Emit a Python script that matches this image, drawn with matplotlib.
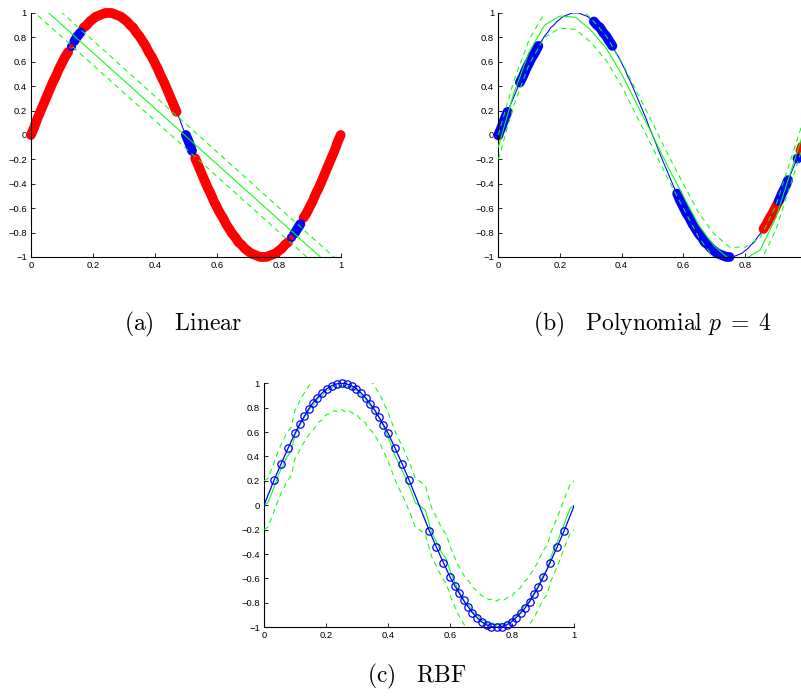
import numpy as np
import matplotlib.pyplot as plt

plt.rcParams['mathtext.fontset'] = 'cm'
plt.rcParams['font.family'] = ['Liberation Sans', 'DejaVu Sans']

# target curve sin(2 pi x), read on a 0.01 grid
x_grid = np.linspace(0, 1, 101)
sine_y = [0.00, 0.06, 0.13, 0.19, 0.25, 0.31, 0.37, 0.43, 0.48, 0.54, 0.59, 0.64, 0.68,
          0.73, 0.77, 0.81, 0.84, 0.88, 0.90, 0.93, 0.95, 0.97, 0.98, 0.99, 1.00, 1.00,
          1.00, 0.99, 0.98, 0.97, 0.95, 0.93, 0.90, 0.88, 0.84, 0.81, 0.77, 0.73, 0.68,
          0.64, 0.59, 0.54, 0.48, 0.43, 0.37, 0.31, 0.25, 0.19, 0.13, 0.06, 0.00,
          -0.06, -0.13, -0.19, -0.25, -0.31, -0.37, -0.43, -0.48, -0.54, -0.59, -0.64, -0.68,
          -0.73, -0.77, -0.81, -0.84, -0.88, -0.90, -0.93, -0.95, -0.97, -0.98, -0.99, -1.00, -1.00,
          -1.00, -0.99, -0.98, -0.97, -0.95, -0.93, -0.90, -0.88, -0.84, -0.81, -0.77, -0.73, -0.68,
          -0.64, -0.59, -0.54, -0.48, -0.43, -0.37, -0.31, -0.25, -0.19, -0.13, -0.06, 0.00]

# (a) linear kernel
lin_x = [0.0, 1.0]
lin_fit = [1.13, -1.15]
lin_eps = 0.1
lin_red = [(0.00, 0.12), (0.17, 0.47), (0.53, 0.83), (0.88, 1.00)]
lin_blue = [(0.14, 0.16), (0.50, 0.52), (0.85, 0.87)]
lin_ring = [0.13, 0.84]

# (b) polynomial kernel p = 4
poly_x = [0.00, 0.05, 0.10, 0.15, 0.20, 0.25, 0.30, 0.35, 0.40, 0.45, 0.50,
          0.55, 0.60, 0.65, 0.70, 0.75, 0.80, 0.85, 0.90, 0.95, 1.00]
poly_fit = [-0.10, 0.34, 0.68, 0.90, 0.975, 0.965, 0.86, 0.71, 0.50, 0.25, 0.00,
            -0.26, -0.50, -0.74, -0.91, -1.02, -1.02, -0.94, -0.68, -0.29, 0.10]
poly_eps = 0.1
poly_red = [(0.00, 0.00), (0.86, 0.91), (0.98, 1.00)]
poly_blue = [(0.00, 0.03), (0.07, 0.13), (0.31, 0.37), (0.58, 0.75), (0.91, 0.94), (0.97, 0.97)]

# (c) RBF kernel
rbf_x = [0.0, 0.033, 0.055, 0.078, 0.100, 0.116, 0.130, 0.144, 0.158, 0.172, 0.187, 0.202,
         0.218, 0.234, 0.250, 0.266, 0.282, 0.298, 0.313, 0.328, 0.343, 0.357, 0.371, 0.385,
         0.400, 0.422, 0.445, 0.467, 0.5, 0.533, 0.555, 0.578, 0.600, 0.615, 0.629, 0.643,
         0.657, 0.671, 0.686, 0.701, 0.717, 0.733, 0.750, 0.766, 0.782, 0.798, 0.813, 0.828,
         0.842, 0.856, 0.870, 0.884, 0.900, 0.922, 0.945, 0.967, 1.0]
rbf_y = [0.00, 0.21, 0.34, 0.47, 0.59, 0.67, 0.73, 0.79, 0.84, 0.88, 0.92, 0.955,
         0.98, 0.995, 1.00, 0.995, 0.98, 0.955, 0.92, 0.88, 0.83, 0.78, 0.72, 0.66,
         0.59, 0.47, 0.34, 0.21, 0.00, -0.21, -0.34, -0.47, -0.59, -0.66, -0.72, -0.78,
         -0.83, -0.88, -0.92, -0.955, -0.98, -0.995, -1.00, -0.995, -0.98, -0.955, -0.92, -0.88,
         -0.84, -0.79, -0.73, -0.67, -0.59, -0.47, -0.34, -0.21, 0.00]
rbf_sv = [0] + [1] * 27 + [0] + [1] * 27 + [0]
rbf_fit_x = [0.000, 0.012, 0.025, 0.050, 0.075, 0.0875, 0.100, 0.125,
             0.150, 0.1625, 0.175, 0.1875, 0.200, 0.2125, 0.225, 0.2375, 0.250,
             0.2625, 0.275, 0.2875, 0.300, 0.3125, 0.325, 0.3375, 0.350,
             0.375, 0.400, 0.425, 0.450, 0.475, 0.4875, 0.500, 0.520, 0.540,
             0.550, 0.575, 0.5875, 0.600, 0.625,
             0.650, 0.6625, 0.675, 0.6875, 0.700, 0.7125, 0.725, 0.7375, 0.750,
             0.7625, 0.775, 0.7875, 0.800, 0.8125, 0.825, 0.8375, 0.850,
             0.875, 0.900, 0.9125, 0.925, 0.950, 0.975, 0.988, 1.000]
rbf_fit = [0.00, 0.02, 0.10, 0.27, 0.40, 0.44, 0.58, 0.70,
           0.80, 0.83, 0.88, 0.90, 0.94, 0.95, 0.975, 0.965, 0.985,
           0.965, 0.975, 0.95, 0.94, 0.90, 0.88, 0.83, 0.80,
           0.70, 0.56, 0.39, 0.26, 0.11, 0.02, 0.00, -0.04, -0.22,
           -0.27, -0.40, -0.44, -0.54, -0.69,
           -0.80, -0.83, -0.88, -0.90, -0.94, -0.95, -0.975, -0.965, -0.985,
           -0.965, -0.975, -0.95, -0.94, -0.90, -0.88, -0.83, -0.80,
           -0.70, -0.57, -0.53, -0.42, -0.27, -0.10, -0.02, 0.00]
rbf_eps = 0.2

xticks = [0, 0.2, 0.4, 0.6, 0.8, 1]
xtick_labels = ['0', '0.2', '0.4', '0.6', '0.8', '1']
yticks = [-1, -0.8, -0.6, -0.4, -0.2, 0, 0.2, 0.4, 0.6, 0.8, 1]
ytick_labels = ['\u22121', '\u22120.8', '\u22120.6', '\u22120.4', '\u22120.2', '0',
                '0.2', '0.4', '0.6', '0.8', '1']

captions = [r'$\mathrm{(a)}\quad\mathrm{Linear}$',
            r'$\mathrm{(b)}\quad\mathrm{Polynomial}\ p\;=\;4$',
            r'$\mathrm{(c)}\quad\mathrm{RBF}$']

xg = np.asarray(x_grid)
sy = np.asarray(sine_y)
GREEN = (0, 1, 0)
DASH = (0, (5, 4))


def style(ax, nx=None):
    ax.set_xlim(0, 1)
    ax.set_ylim(-1, 1)
    ax.spines['top'].set_visible(False)
    ax.spines['right'].set_visible(False)
    for s in ['left', 'bottom']:
        ax.spines[s].set_linewidth(0.8)
    ax.set_xticks(xticks[:nx], xtick_labels[:nx])
    ax.set_yticks(yticks, ytick_labels)
    ax.tick_params(direction='in', length=3, width=0.6, labelsize=6.8, pad=3)


def segment(ax, lo, hi, color):
    m = (xg >= lo - 1e-9) & (xg <= hi + 1e-9)
    if m.sum() > 1:
        ax.plot(xg[m], sy[m], color=color, lw=7, solid_capstyle='round',
                clip_on=False, zorder=2)
    else:
        ax.plot(xg[m], sy[m], 'o', color=color, ms=7, mew=0, clip_on=False, zorder=2)


def tube(ax, x, fit, eps):
    fit = np.asarray(fit)
    ax.plot(x, fit, color=GREEN, lw=0.75, zorder=4)
    ax.plot(x, fit + eps, color=GREEN, lw=0.75, ls=DASH, zorder=4)
    ax.plot(x, fit - eps, color=GREEN, lw=0.75, ls=DASH, zorder=4)


fig = plt.figure(figsize=(8.01, 7.00), dpi=100)
ax_a = fig.add_axes([0.0387, 0.6329, 0.3866, 0.3486])
ax_b = fig.add_axes([0.6221, 0.6329, 0.3849, 0.3486])
ax_c = fig.add_axes([0.3296, 0.1039, 0.3874, 0.3486])

# (a)
ax_a.plot(xg, sy, color='blue', lw=0.75, zorder=1)
for lo, hi in lin_red:
    segment(ax_a, lo, hi, 'red')
for lo, hi in lin_blue:
    segment(ax_a, lo, hi, 'blue')
for xr in lin_ring:
    i = int(np.argmin(np.abs(xg - xr)))
    ax_a.plot(xg[i], sy[i], 'o', mfc='red', mec='blue', ms=5, mew=1.5, zorder=3)
tube(ax_a, lin_x, lin_fit, lin_eps)
style(ax_a)

# (b) -- right edge of this panel runs past the figure, like the original
ax_b.plot(xg, sy, color='blue', lw=0.75, zorder=1)
for lo, hi in poly_red:
    segment(ax_b, lo, hi, 'red')
for lo, hi in poly_blue:
    segment(ax_b, lo, hi, 'blue')
tube(ax_b, poly_x, poly_fit, poly_eps)
style(ax_b, nx=-1)

# (c)
tube(ax_c, rbf_fit_x, rbf_fit, rbf_eps)
rx = np.asarray(rbf_x)
ry = np.asarray(rbf_y)
sv = np.asarray(rbf_sv) == 1
ax_c.plot(rx, ry, color='blue', lw=0.9, zorder=5)
ax_c.plot(rx[sv], ry[sv], 'o', mfc='none', mec='blue', ms=5.3, mew=0.9, zorder=6,
          clip_on=False)
style(ax_c)

fig.text(183 / 801, 1 - 324 / 700, captions[0], fontsize=17, ha='center', va='center')
fig.text(652 / 801, 1 - 324 / 700, captions[1], fontsize=17, ha='center', va='center')
fig.text(417 / 801, 1 - 676 / 700, captions[2], fontsize=17, ha='center', va='center')

fig.savefig('out.png', dpi=100)
